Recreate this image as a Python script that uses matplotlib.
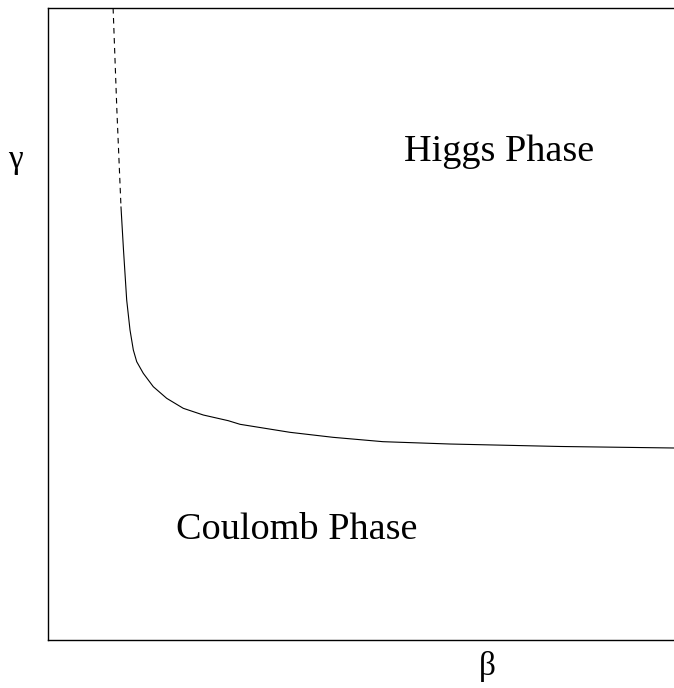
import numpy as np
import matplotlib
matplotlib.use("Agg")
import matplotlib.pyplot as plt

plt.rcParams['font.family'] = ['Liberation Serif', 'DejaVu Serif']

# phase boundary, dashed (uncertain) part and solid part
beta_dash = [0.104, 0.110, 0.1166]
gamma_dash = [1.0, 0.839, 0.6851]

beta_solid = [0.1166, 0.1206, 0.1257, 0.1310, 0.1363, 0.1417, 0.1522, 0.1682,
              0.1896, 0.2161, 0.2481, 0.2880, 0.3067, 0.3866, 0.4553, 0.5351,
              0.6422, 0.8179, 1.0]
gamma_solid = [0.6851, 0.6171, 0.5380, 0.4905, 0.4589, 0.4404, 0.4220, 0.4008,
               0.3824, 0.3666, 0.3560, 0.3470, 0.3413, 0.3286, 0.3207, 0.3138,
               0.3101, 0.3062, 0.3038]

fig = plt.figure(figsize=(6.74, 6.88), dpi=100)
ax = fig.add_axes([48/674, 48/688, 626/674, 632/688])

ax.plot(beta_dash, gamma_dash, color='black', lw=0.8, ls=(0, (5, 4)))
ax.plot(beta_solid, gamma_solid, color='black', lw=0.8)

ax.set_xlim(0, 1)
ax.set_ylim(0, 1)
ax.set_xticks([])
ax.set_yticks([])
ax.spines['right'].set_visible(False)
for s in ['left', 'top', 'bottom']:
    ax.spines[s].set_linewidth(1.0)

ax.text(0.721, 0.772, 'Higgs Phase', fontsize=27.5, ha='center', va='center')
ax.text(0.398, 0.174, 'Coulomb Phase', fontsize=27.5, ha='center', va='center')

fig.text(15/674, 1 - 160/688, 'γ', fontsize=24, ha='center', va='center')
fig.text(487/674, 1 - 666/688, 'β', fontsize=24, ha='center', va='center')

fig.savefig('out.png', dpi=100)
